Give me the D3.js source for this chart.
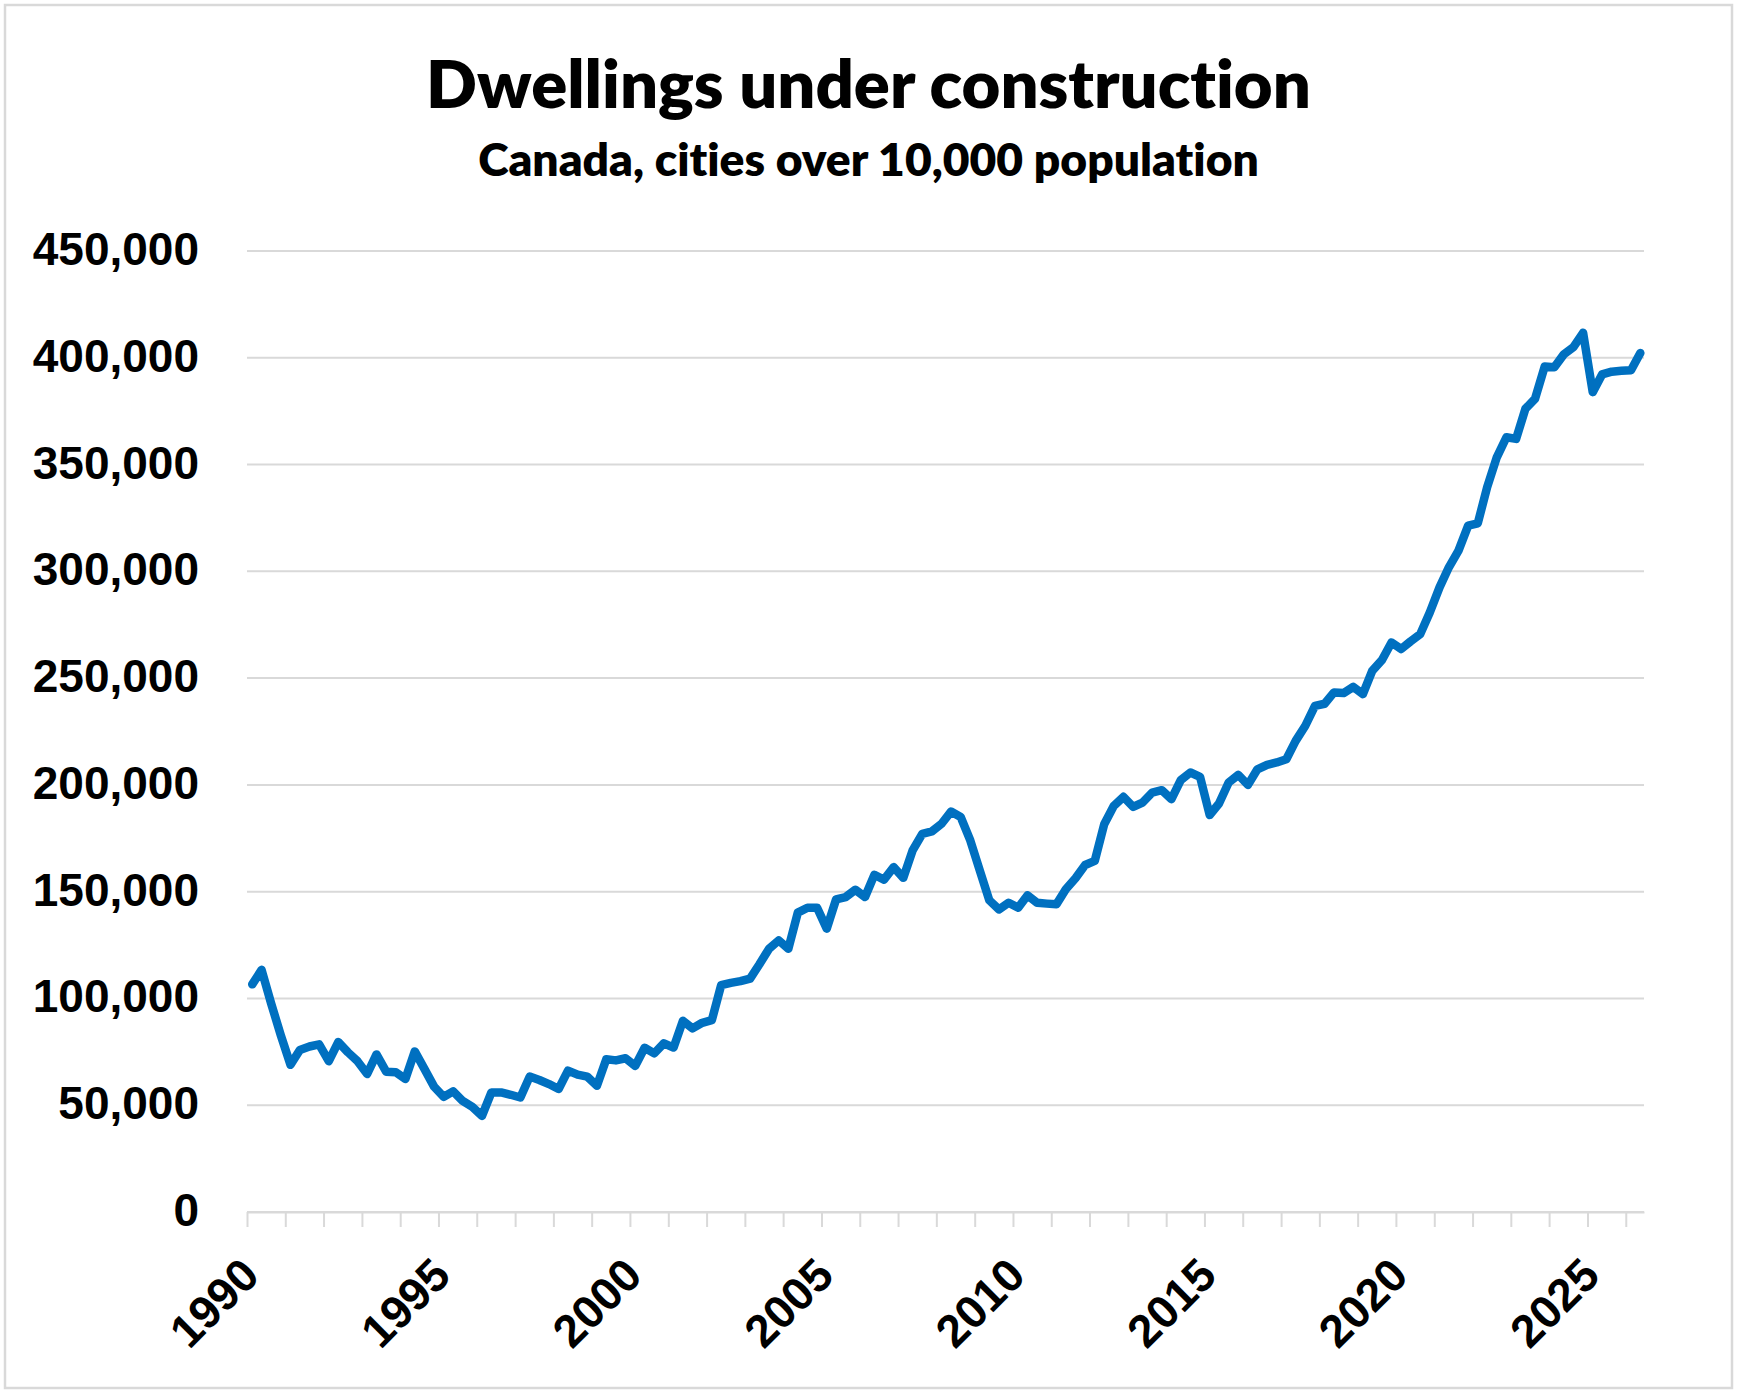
<!DOCTYPE html>
<html>
<head>
<meta charset="utf-8">
<script src="https://cdn.jsdelivr.net/npm/d3@7"></script>
<style>
  body { margin: 0; background: #fff; }
</style>
</head>
<body>
<div id="chart"></div>
<script>
const width = 1741;
const height = 1397;

const titleText = "Dwellings under construction";
const subtitleText = "Canada, cities over 10,000 population";

// first observation: 1990 Q1, one value per quarter
const startYear = 1990;
const dwellings = [
    106600, 113400, 97500, 82700, 68900, 75900, 77500, 78500,
    70600, 79600, 74800, 70600, 64600, 73800, 65700, 65400,
    62300, 75200, 67000, 58700, 53900, 56500, 52000, 49200,
    45000, 56000, 56000, 54900, 53600, 63400, 61800, 59900,
    57600, 66200, 64300, 63400, 59100, 71500, 71000, 72000,
    68400, 76900, 74300, 79000, 77000, 89500, 86000, 88600,
    89800, 106200, 107300, 108100, 109300, 116000, 123300, 127200,
    123300, 140200, 142500, 142500, 132700, 146400, 147500, 150900,
    147500, 157900, 155600, 161500, 156500, 169300, 177100, 178200,
    181800, 187500, 185000, 174000, 159700, 146000, 141700, 144800,
    142500, 148300, 144800, 144400, 144100, 151100, 156300, 162500,
    164400, 181600, 190200, 194400, 189700, 191700, 196400, 197500,
    193300, 202200, 205800, 203800, 185900, 191300, 201100, 204700,
    200000, 207300, 209400, 210500, 212000, 220600, 227700, 237000,
    238000, 243300, 243000, 245900, 242500, 253400, 258400, 266700,
    263600, 267200, 270600, 280800, 292500, 301900, 309700, 321400,
    322500, 339400, 353400, 362800, 362000, 376100, 380800, 395900,
    395600, 401600, 405000, 411700, 383900, 392200, 393500, 393900,
    394200, 402200
];

const yTicks = [0, 50000, 100000, 150000, 200000, 250000, 300000, 350000, 400000, 450000];
const labelYears = [1990, 1995, 2000, 2005, 2010, 2015, 2020, 2025];

const plotLeft = 247;
const plotRight = 1644;
const plotTop = 251;
const plotBottom = 1212;

const gridColor = "#d9d9d9";
const lineColor = "#0070c0";

// each quarter is plotted a little after its first day, as in the source
let data = dwellings.map((v, i) => ({
    date: new Date(startYear + Math.floor(i / 4), (i % 4) * 3 + 1, 20),
    value: v
}));

let svg = d3.select("#chart").append("svg")
    .attr("width", width)
    .attr("height", height);

svg.append("rect")
    .attr("x", 5)
    .attr("y", 5)
    .attr("width", 1727)
    .attr("height", 1383)
    .attr("fill", "#fff")
    .attr("stroke", gridColor)
    .attr("stroke-width", 2.5);

let xScale = d3.scaleTime()
    .domain([new Date(1990, 0, 1), new Date(2026, 5, 24)])
    .range([plotLeft, plotRight]);

let yScale = d3.scaleLinear()
    .domain([0, 450000])
    .range([plotBottom, plotTop]);

// title and subtitle, sized to the widths in the original
function fitText(sel, target) {
    let fs = parseFloat(sel.style("font-size"));
    let len = sel.node().getComputedTextLength();
    sel.style("font-size", (fs * target / len) + "px");
}

let title = svg.append("text")
    .attr("x", 868.5)
    .attr("y", 108)
    .attr("text-anchor", "middle")
    .style("font-family", "Lato, 'Open Sans', sans-serif")
    .style("font-weight", 800)
    .style("font-variant-ligatures", "none")
    .style("font-size", "68px")
    .attr("fill", "#000")
    .text(titleText);
fitText(title, 885);

let subtitle = svg.append("text")
    .attr("x", 868.5)
    .attr("y", 176)
    .attr("text-anchor", "middle")
    .style("font-family", "Lato, 'Open Sans', sans-serif")
    .style("font-weight", 800)
    .style("font-variant-ligatures", "none")
    .style("font-size", "47px")
    .attr("fill", "#000")
    .text(subtitleText);
fitText(subtitle, 781);

// gridlines
svg.append("g")
    .selectAll("line")
    .data(yTicks)
    .join("line")
        .attr("x1", plotLeft)
        .attr("x2", plotRight)
        .attr("y1", d => yScale(d))
        .attr("y2", d => yScale(d))
        .attr("stroke", gridColor)
        .attr("stroke-width", 2);

// y axis labels
let yAxis = svg.append("g")
    .attr("transform", `translate(${plotLeft},0)`)
    .call(d3.axisLeft(yScale).tickValues(yTicks).tickSize(0).tickPadding(48).tickFormat(d3.format(",")))
    .call(g => g.select(".domain").remove());

yAxis.selectAll(".tick text")
    .attr("dy", 0)
    .attr("y", 13.5)
    .style("font-family", "'Liberation Sans', Arial, sans-serif")
    .style("font-weight", 700)
    .style("font-size", "46px")
    .attr("fill", "#000");

// x axis: a tick every year, a label every five
let xAxis = svg.append("g")
    .attr("transform", `translate(0,${plotBottom})`)
    .call(d3.axisBottom(xScale)
        .ticks(d3.timeYear.every(1))
        .tickSize(15)
        .tickSizeOuter(0)
        .tickFormat(d => labelYears.includes(d.getFullYear()) ? d.getFullYear() : ""));

xAxis.select(".domain")
    .attr("stroke", gridColor)
    .attr("stroke-width", 2);

xAxis.selectAll(".tick line")
    .attr("stroke", gridColor)
    .attr("stroke-width", 2);

xAxis.selectAll(".tick text")
    .attr("x", 0)
    .attr("y", 0)
    .attr("dy", 0)
    .attr("text-anchor", "end")
    .attr("transform", "translate(14,66) rotate(-45)")
    .style("font-family", "'Liberation Sans', Arial, sans-serif")
    .style("font-weight", 700)
    .style("font-size", "46px")
    .attr("fill", "#000");

// series
let line = d3.line()
    .x(d => xScale(d.date))
    .y(d => yScale(d.value));

svg.append("path")
    .datum(data)
    .attr("d", line)
    .attr("fill", "none")
    .attr("stroke", lineColor)
    .attr("stroke-width", 8.5)
    .attr("stroke-linejoin", "round")
    .attr("stroke-linecap", "round");
</script>
</body>
</html>
